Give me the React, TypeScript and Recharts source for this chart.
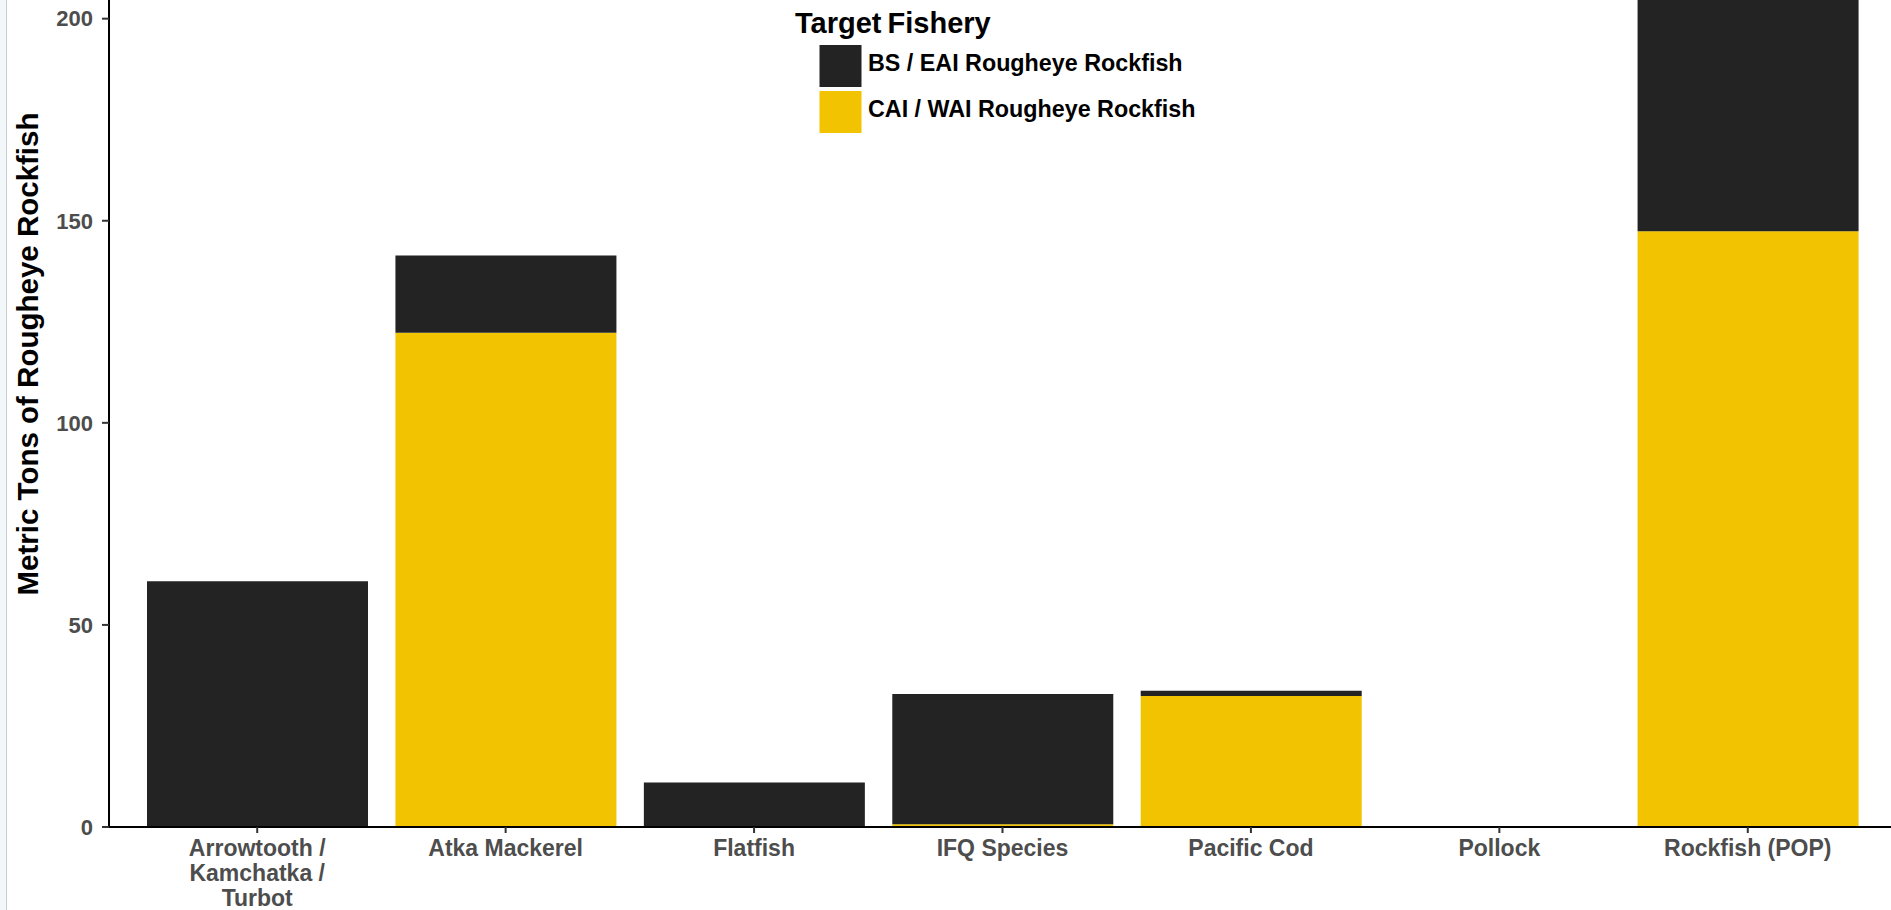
import React from 'react';
import { BarChart, Bar, XAxis, YAxis } from 'recharts';

// target fisheries (x categories), "\n" marks a line break in the tick label
const fisheries = [
  'Arrowtooth /\nKamchatka /\nTurbot',
  'Atka Mackerel',
  'Flatfish',
  'IFQ Species',
  'Pacific Cod',
  'Pollock',
  'Rockfish (POP)',
];

// metric tons
const bsEai = [60.8, 19.1, 11.0, 32.2, 1.3, 0, 78.0];
const caiWai = [0, 122.3, 0, 0.7, 32.4, 0, 147.4];

const yTicks = [0, 50, 100, 150, 200];

const seriesNames = ['BS / EAI Rougheye Rockfish', 'CAI / WAI Rougheye Rockfish'];
const seriesColors = ['#232323', '#F2C300'];

const data = fisheries.map((f, i) => ({ fishery: f, bs: bsEai[i], cai: caiWai[i] }));

const FONT = '"Liberation Sans", Arial, sans-serif';

const FisheryTick = (props: any) => {
  const { x, y, payload } = props;
  const lines: string[] = String(payload.value).split('\n');
  return (
    <g transform={`translate(${x},${y})`}>
      {lines.map((line, i) => (
        <text
          key={i}
          x={0}
          y={21 + i * 25}
          textAnchor="middle"
          fill="#4D4D4D"
          fontSize={23}
          fontWeight="bold"
          fontFamily={FONT}
        >
          {line}
        </text>
      ))}
    </g>
  );
};

const YTitle = () => (
  <text
    x={37.5}
    y={502}
    transform="rotate(-90, 37.5, 502)"
    textAnchor="middle"
    fill="#000"
    fontSize={29.5}
    fontWeight="bold"
    fontFamily={FONT}
  >
    Metric Tons of Rougheye Rockfish
  </text>
);

const FisheryLegend = () => (
  <svg
    width={440}
    height={140}
    style={{ position: 'absolute', left: 780, top: 0 }}
    fontFamily={FONT}
  >
    <text x={15} y={33} fontSize={29} fontWeight="bold" fill="#000" wordSpacing={-2}>
      Target Fishery
    </text>
    {seriesNames.map((name, i) => (
      <g key={name}>
        <rect x={39.5} y={45 + i * 46} width={42} height={42} fill={seriesColors[i]} />
        <text x={88} y={71 + i * 46} fontSize={23.3} fontWeight="bold" fill="#000">
          {name}
        </text>
      </g>
    ))}
  </svg>
);

export default function App() {
  return (
    <div style={{ position: 'absolute', left: 0, top: 0, width: 1891, height: 910, overflow: 'hidden', background: '#fff' }}>
      <div style={{ position: 'absolute', left: 0, top: -148, width: 1891, height: 1058 }}>
        <BarChart
          width={1891}
          height={1058}
          data={data}
          margin={{ top: 5, right: 0, bottom: 0, left: 0 }}
          style={{ fontFamily: FONT }}
        >
          <XAxis
            dataKey="fishery"
            interval={0}
            height={83}
            padding={{ left: 24, right: 19 }}
            tickSize={6}
            tickMargin={2}
            tickLine={{ stroke: '#333', strokeWidth: 2 }}
            axisLine={{ stroke: '#000', strokeWidth: 2 }}
            tick={<FisheryTick />}
          />
          <YAxis
            type="number"
            domain={[0, 240]}
            ticks={yTicks}
            width={109}
            tickSize={7}
            tickMargin={9}
            tickLine={{ stroke: '#333', strokeWidth: 2 }}
            axisLine={{ stroke: '#000', strokeWidth: 2 }}
            tick={{ fill: '#4D4D4D', fontSize: 22, fontWeight: 'bold', fontFamily: FONT }}
            label={<YTitle />}
          />
          <Bar dataKey="cai" stackId="a" fill={seriesColors[1]} barSize={221} isAnimationActive={false} />
          <Bar dataKey="bs" stackId="a" fill={seriesColors[0]} barSize={221} isAnimationActive={false} />
        </BarChart>
      </div>
      <FisheryLegend />
      <div style={{ position: 'absolute', left: 0, top: 0, width: 6, height: 910, background: '#F2F7FA', borderRight: '1px solid #C9CED2' }} />
    </div>
  );
}
